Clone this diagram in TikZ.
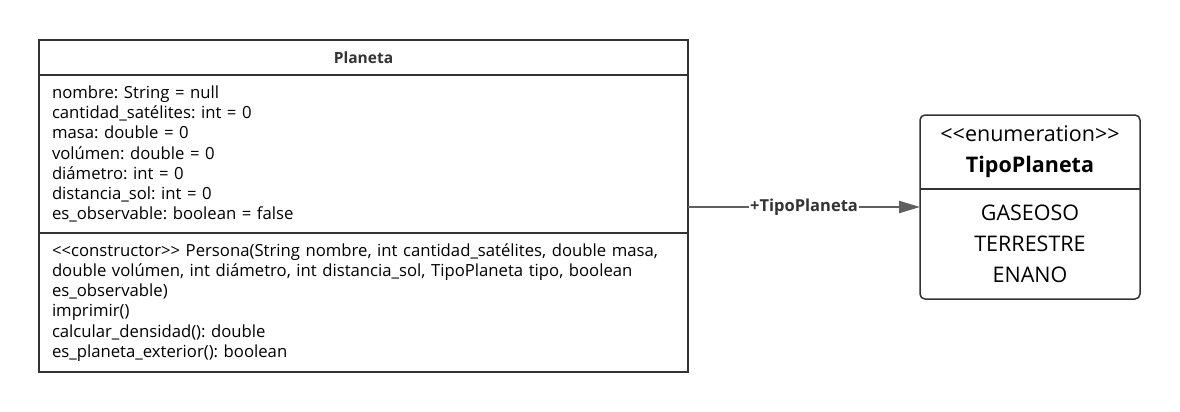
\documentclass[tikz,border=0pt]{standalone}
\usepackage{fontspec}
\setmainfont{Open Sans}
\usetikzlibrary{arrows.meta}
\usetikzlibrary{positioning}
\definecolor{boxline}{HTML}{333333}
\definecolor{linkline}{HTML}{5F5F5F}
\frenchspacing
\begin{document}
\begin{tikzpicture}[
				x=1pt, y=-1pt,
				node distance=0pt,
				C/.style = {rectangle, draw=boxline, line width=1.5pt,% parts of the class box
					minimum width=649, text width=623,
					inner xsep=13pt, inner ysep=0pt, outer sep=0pt,
					font=\fontsize{16.7}{20.2}\selectfont},
				E/.style = {rectangle, minimum width=220, text width=200,
					inner sep=0pt, outer sep=0pt, align=center,
					font=\fontsize{21.5}{31}\selectfont},% parts of the enumeration
				A/.style = {draw=linkline, line width=2.2pt,
					-{Triangle[length=21pt, width=12pt]}},
				]
				\useasboundingbox (0,0) rectangle (1180,412);
				% class Planeta
				\node[C, minimum height=35, align=center,
					font=\fontsize{15.5}{18}\selectfont\bfseries, text=boxline] (P) at (363.5,57.5) {Planeta};
				\node[C, below=of P, minimum height=158, align=left] (P-attr)
					{nombre: String = null\\
					cantidad\_satélites: int = 0\\
					masa: double = 0\\
					volúmen: double = 0\\
					diámetro: int = 0\\
					distancia\_sol: int = 0\\
					es\_observable: boolean = false};
				\node[C, below=of P-attr, minimum height=139, align=left] (P-meth)
					{<{}<constructor>{}> Persona(String nombre, int cantidad\_satélites, double masa,\\
					double volúmen, int diámetro, int distancia\_sol, TipoPlaneta tipo, boolean\\
					es\_observable)\\
					imprimir()\\
					calcular\_densidad(): double\\
					es\_planeta\_exterior(): boolean};
				% enumeration TipoPlaneta
				\node[E, minimum height=74] (T) at (1030,152)
					{<{}<enumeration>{}>\\ \textbf{TipoPlaneta}};
				\node[E, below=of T, minimum height=110] (T-val)
					{GASEOSO\\ TERRESTRE\\ ENANO};
				\draw[boxline, line width=1.5pt, rounded corners=5pt]
					(T.north west) rectangle (T-val.south east);
				\draw[boxline, line width=1.5pt] (T.south west) -- (T.south east);
				% association
				\coordinate (L) at (P-attr.east |- 0,207);
				\draw[A] (L) -- node[fill=white, inner xsep=1pt, inner ysep=2pt,
					font=\fontsize{16.5}{18}\selectfont\bfseries, text=boxline] {+TipoPlaneta}
					(L -| T-val.west);
			\end{tikzpicture}
\end{document}
